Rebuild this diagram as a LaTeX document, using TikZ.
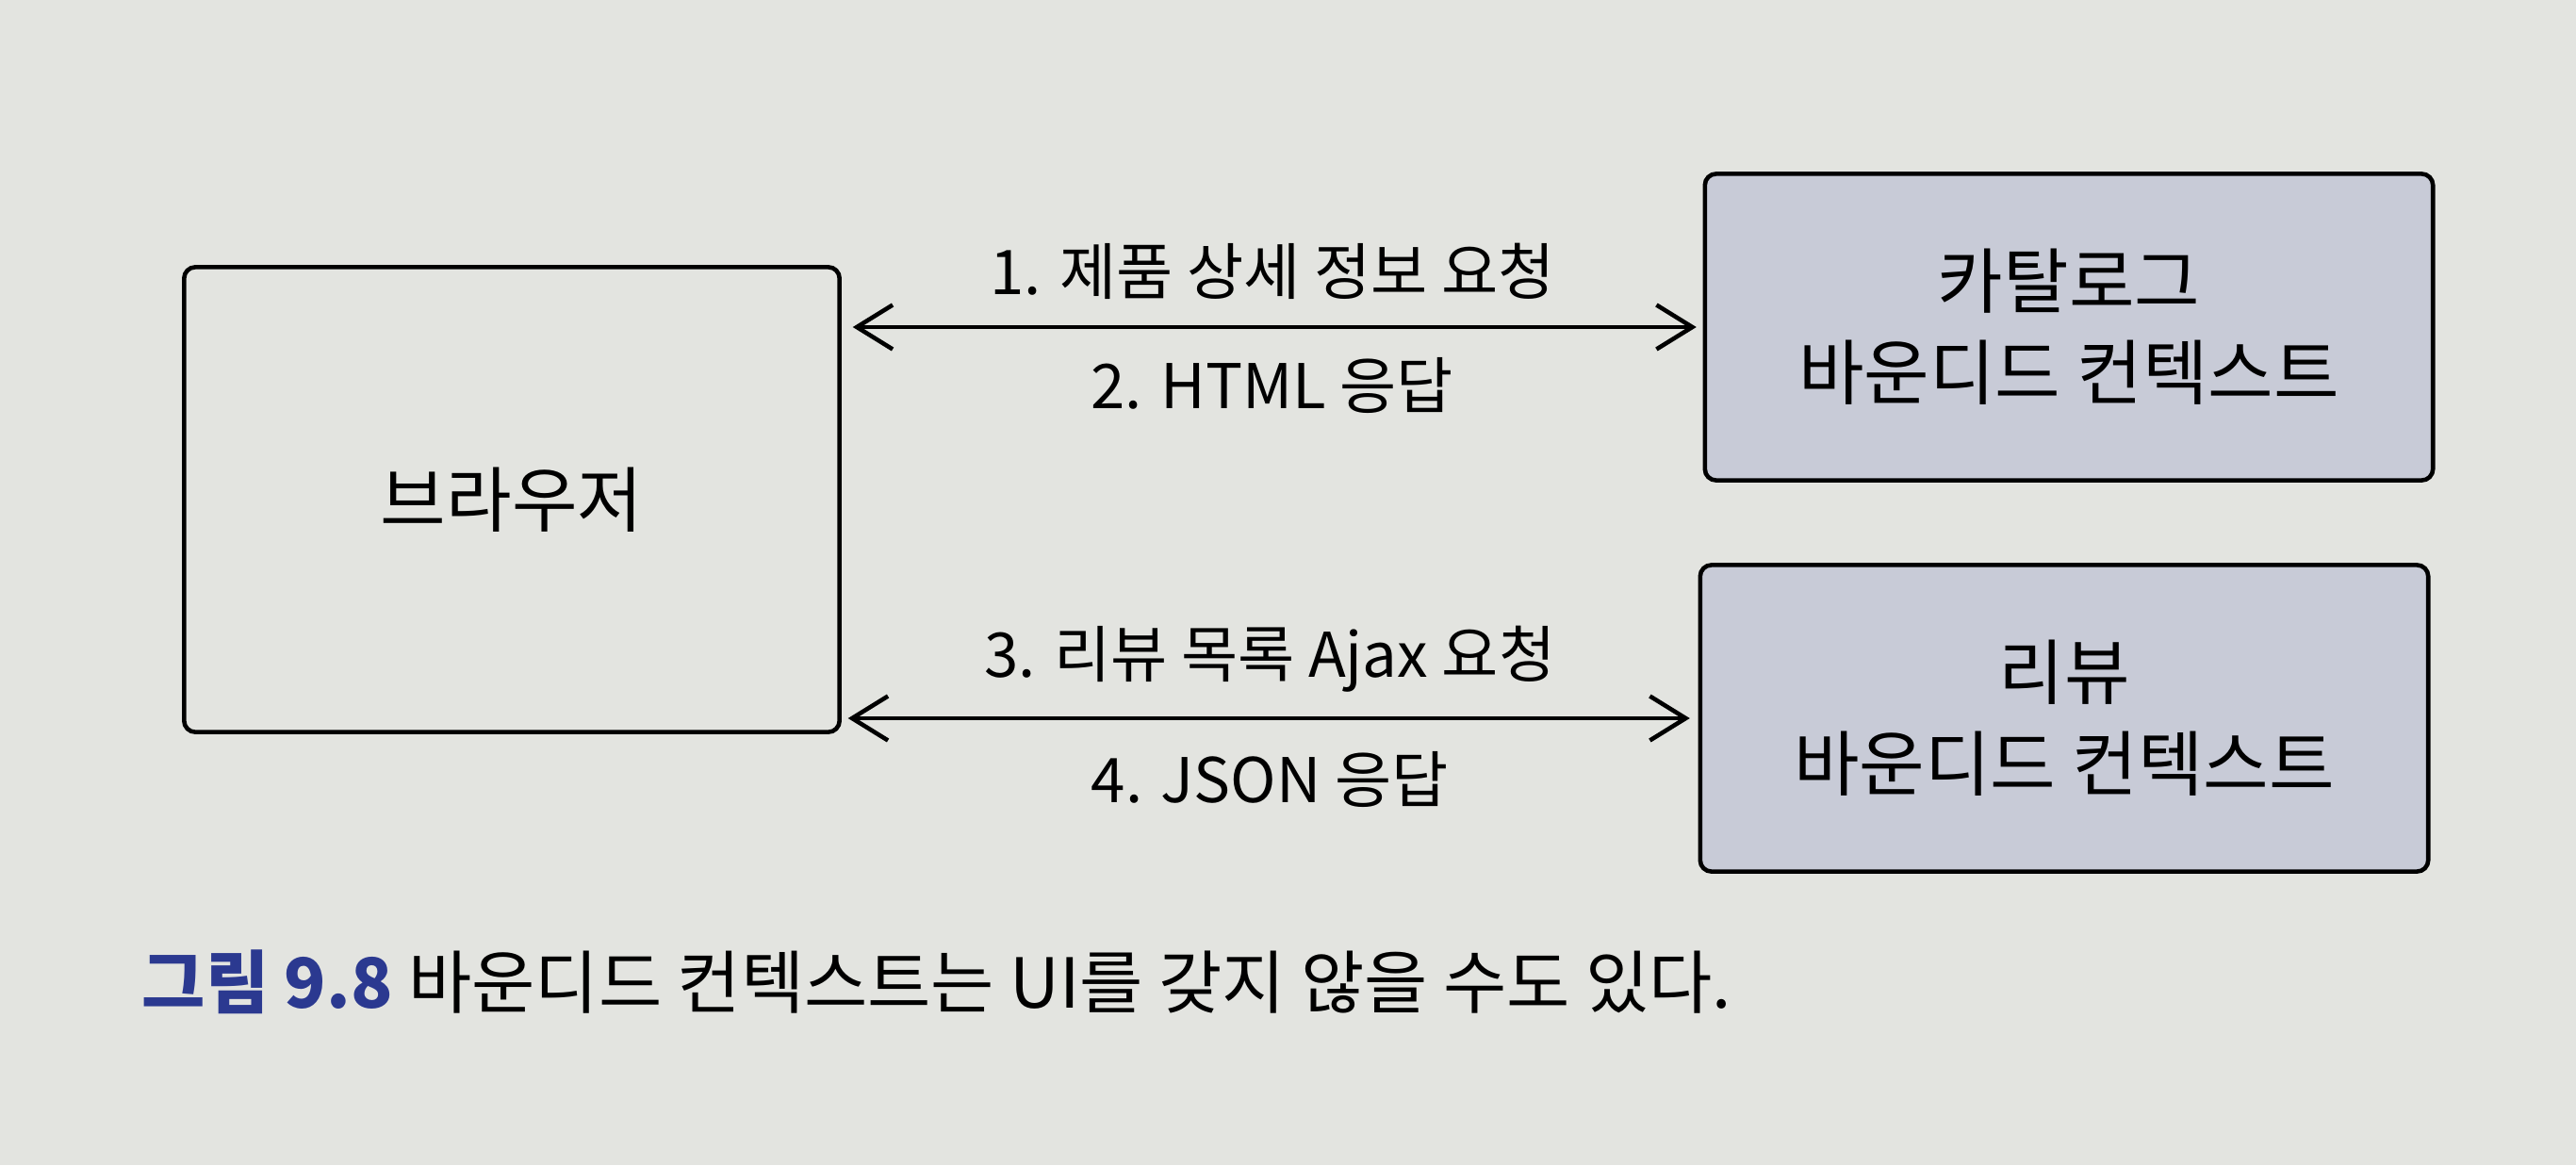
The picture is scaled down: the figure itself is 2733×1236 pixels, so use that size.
\documentclass[tikz,border=0pt]{standalone}
\usepackage{fontspec}
\setmainfont{Noto Sans CJK KR}
\usetikzlibrary{arrows.meta,calc}
\definecolor{pagegray}{HTML}{E3E4E0}
\definecolor{ctxfill}{HTML}{C8CBD7}
\definecolor{capblue}{HTML}{2B3990}
\begin{document}
\begin{tikzpicture}
  [x=0.01cm, y=-0.01cm,
   box/.style={draw, line width=1.3pt, rounded corners=0.12cm, inner sep=0pt, outer sep=0pt,
     align=center, font=\fontsize{21.5}{27.5}\selectfont},
   ctx box/.style={box, fill=ctxfill, minimum width=7.72cm, minimum height=3.25cm},
   msg/.style={line width=1.3pt, {Straight Barb[length=0.38cm,width=0.47cm]}-{Straight Barb[length=0.38cm,width=0.47cm]}},
   msg label/.style={inner sep=0pt, font=\fontsize{18.6}{22}\selectfont}]
  \fill[pagegray] (0,0) rectangle (2733,1236);
  \node[box, fill=pagegray, minimum width=6.95cm, minimum height=4.93cm] (browser) at (543,530) {브라우저};
  \node[ctx box] (catalog) at (2195,347) {카탈로그\\바운디드 컨텍스트};
  \node[ctx box] (review) at (2190,762) {리뷰\\바운디드 컨텍스트};
  \draw[msg, shorten <=0.14cm, shorten >=0.09cm] (browser.east |- catalog.west) -- (catalog.west)
    node[msg label, midway, above=0.27cm] {1. 제품 상세 정보 요청}
    node[msg label, midway, below=0.3cm] {2. HTML 응답};
  \draw[msg, shorten <=0.09cm, shorten >=0.11cm] (browser.east |- review.west) -- (review.west)
    node[msg label, midway, above=0.25cm] {3. 리뷰 목록 Ajax 요청}
    node[msg label, midway, below=0.33cm] {4. JSON 응답};
  \node[anchor=west, inner sep=0pt, font=\fontsize{20.8}{24}\selectfont] (caption) at (150,1042)
    {\textbf{\color{capblue}그림 9.8} 바운디드 컨텍스트는 UI를 갖지 않을 수도 있다.};
\end{tikzpicture}
\end{document}
